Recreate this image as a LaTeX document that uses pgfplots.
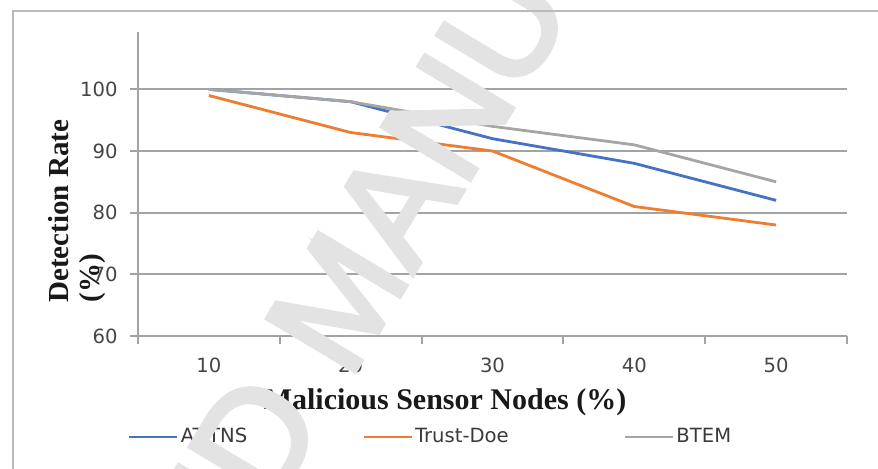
\documentclass[border=0pt]{standalone}
\usepackage{pgfplots}
\pgfplotsset{compat=1.18}
\usepackage{fontspec}
\setmainfont{Liberation Serif}
\newfontfamily\labelfont{DejaVu Sans}
\newfontfamily\wmfont[FakeBold=3]{Liberation Sans}

\definecolor{atblue}{HTML}{4472C4}
\definecolor{tdorange}{HTML}{ED7D31}
\definecolor{btgray}{HTML}{A5A5A5}
\definecolor{gridgray}{HTML}{A3A3A3}
\definecolor{ticktext}{HTML}{454545}
\definecolor{legtext}{HTML}{3A3A3A}

\begin{document}
\begin{tikzpicture}
\begin{axis}[
  at={(69pt,66pt)}, anchor=south west,
  width=354.5pt, height=152pt, scale only axis,
  xmin=0.5, xmax=5.5, ymin=60, ymax=109.3,
  axis lines*=left,
  axis line style={gridgray, line width=1pt},
  tick align=outside, major tick length=4pt,
  % category boundaries carry the tick marks
  xtick={0.5,1.5,2.5,3.5,4.5,5.5},
  xticklabels={},
  extra x ticks={1,2,3,4,5},
  extra x tick labels={10,20,30,40,50},
  extra x tick style={grid=none, major tick length=0pt, xtick style={draw=none}},
  xtick style={gridgray, line width=1pt},
  ytick={60,70,80,90,100},
  ytick style={gridgray, line width=1pt},
  ymajorgrids, grid style={gridgray, line width=1pt},
  ticklabel style={font=\labelfont\fontsize{9.8}{11}\selectfont, text=ticktext},
  /pgf/number format/assume math mode=true,
  yticklabel style={anchor=east, inner sep=0pt, xshift=-6pt},
  xticklabel style={anchor=north, inner sep=0pt, yshift=-11pt},
  xlabel={Malicious Sensor Nodes (\%)},
  xlabel style={at={(axis description cs:0.433,-0.2434)}, anchor=base,
    font=\bfseries\fontsize{15}{18}\selectfont, text=black!90},
  legend style={at={(axis description cs:-0.0141,-0.332)}, anchor=west,
    draw=none, fill=none, inner sep=0pt, outer sep=0pt,
    legend columns=3, font=\labelfont\fontsize{9.8}{11}\selectfont,
    text=legtext, nodes={inner sep=1pt},
    /tikz/every even column/.append style={column sep=56.5pt}},
  legend image code/.code={\draw[#1, line width=1.4pt] (0pt,0pt) -- (24pt,0pt);},
  every axis plot/.append style={line width=1.4pt, line join=round},
]
\addplot[atblue] coordinates {(1,100) (2,98) (3,92) (4,88) (5,82)};
\addlegendentry{AT-TNS}
\addplot[tdorange] coordinates {(1,99) (2,93) (3,90) (4,81) (5,78)};
\addlegendentry{Trust-Doe}
\addplot[btgray] coordinates {(1,100) (2,98) (3,94) (4,91) (5,85)};
\addlegendentry{BTEM}
\end{axis}

% y axis title on two lines, both starting at the bottom
\node[rotate=90, anchor=north west, align=left, inner sep=0pt,
      font=\bfseries\fontsize{14.5}{15.5}\selectfont, text=black!90]
  at (24pt,82.5pt) {Detection Rate\\(\%)};

% diagonal watermark
\node[rotate=59, anchor=base east, inner sep=0pt, font=\wmfont\fontsize{74.5}{80}\selectfont, text=black!11]
  at (163.6pt,25.25pt) {ACCEPTED};
\node[rotate=59, anchor=base west, inner sep=0pt, font=\wmfont\fontsize{74.5}{80}\selectfont, text=black!11]
  at (174.25pt,43pt) {MANUSCRIPT};

% outer frame
\draw[black!27, line width=0.75pt] (6.5pt,-5pt) -- (6.5pt,228.5pt) -- (445pt,228.5pt);

\pgfresetboundingbox
\useasboundingbox (0pt,0pt) rectangle (439pt,234pt);
\end{tikzpicture}
\end{document}
